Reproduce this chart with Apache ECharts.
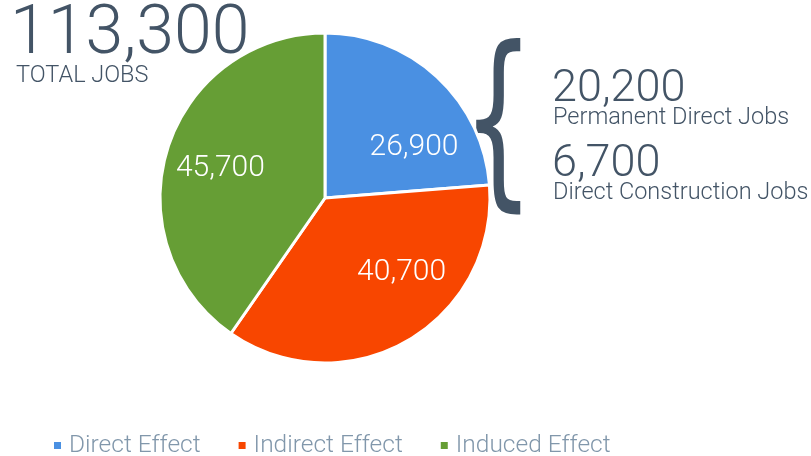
<!DOCTYPE html>
<html>
<head>
<meta charset="utf-8">
<script src="https://cdn.jsdelivr.net/npm/echarts@6/dist/echarts.min.js"></script>
<style>
  html, body { margin: 0; padding: 0; background: #fff; }
  #chart { width: 811px; height: 456px; }
</style>
</head>
<body>
<div id="chart"></div>
<script>
const categories = ['Direct Effect', 'Indirect Effect', 'Induced Effect']
const jobs = [26900, 40700, 45700]
const colors = ['#4a90e2', '#f84600', '#669e35']
const totalJobs = 113300
const directBreakdown = [
  { value: 20200, name: 'Permanent Direct Jobs' },
  { value: 6700, name: 'Direct Construction Jobs' }
]
// nudge the in-slice labels to where the original sits them
const labelOffsets = [[31, 12], [34, 0], [-23, -4]]

const font = 'Roboto, "Liberation Sans", sans-serif'
const ink = '#435466'
const fmt = v => v.toLocaleString('en-US')

const chart = echarts.init(document.getElementById('chart'), null, { renderer: 'canvas' })

const option = {
  animation: false,
  color: colors,
  legend: {
    data: categories,
    top: 428,
    left: 47,
    icon: 'rect',
    itemWidth: 9,
    itemHeight: 9,
    itemGap: 36,
    textStyle: {
      fontFamily: font, fontSize: 24.5, fontWeight: 300, color: '#8197ab',
      padding: [0, 0, 0, 2]
    }
  },
  graphic: [
    {
      type: 'text', left: 10, top: 2,
      style: { text: fmt(totalJobs), font: '300 68px ' + font, fill: ink }
    },
    {
      type: 'text', left: 16, top: 64,
      style: { text: 'TOTAL JOBS', font: '300 23.5px ' + font, fill: ink }
    },
    {
      // the curly brace grouping the direct-job breakdown
      type: 'text', x: 462, y: 39, scaleX: 0.6,
      style: { text: '{', font: '190px "DejaVu Sans"', fill: ink, verticalAlign: 'top' }
    },
    {
      type: 'text', left: 552, top: 67,
      style: { text: fmt(directBreakdown[0].value), font: '300 45px ' + font, fill: ink }
    },
    {
      type: 'text', left: 553, top: 106,
      style: { text: directBreakdown[0].name, font: '300 23.5px ' + font, fill: ink }
    },
    {
      type: 'text', left: 552, top: 142,
      style: { text: fmt(directBreakdown[1].value), font: '300 45px ' + font, fill: ink }
    },
    {
      type: 'text', left: 553, top: 181,
      style: { text: directBreakdown[1].name, font: '300 23.5px ' + font, fill: ink }
    }
  ],
  series: [
    {
      type: 'pie',
      center: [325, 198],
      radius: [0, 165],
      startAngle: 90,
      clockwise: true,
      avoidLabelOverlap: false,
      itemStyle: { borderColor: '#fff', borderWidth: 3 },
      label: {
        show: true,
        position: 'inside',
        color: '#fff',
        fontFamily: font,
        fontSize: 30,
        fontWeight: 300,
        formatter: p => fmt(p.value)
      },
      labelLine: { show: false },
      emphasis: { disabled: true },
      data: categories.map((name, i) => ({
        name,
        value: jobs[i],
        label: { offset: labelOffsets[i] }
      }))
    }
  ]
}

chart.setOption(option)
</script>
</body>
</html>
